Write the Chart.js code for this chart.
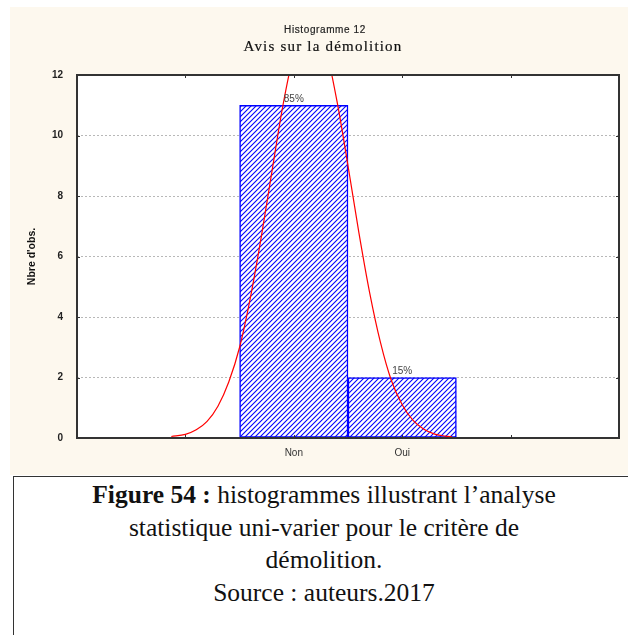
<!DOCTYPE html>
<html>
<head>
<meta charset="utf-8">
<script src="https://cdn.jsdelivr.net/npm/chart.js@4.4.1/dist/chart.umd.min.js"></script>
<style>
  body { margin: 0; background: #fff; width: 628px; height: 635px; overflow: hidden; position: relative; }
  #panel { position: absolute; left: 10px; top: 7px; width: 618px; height: 468px; background: #fdf8ee; }
  #chartBox { position: absolute; left: 0; top: 0; width: 618px; height: 468px; }
  .head1 { position: absolute; left: 0; width: 650px; top: 24px; text-align: center; font: 10px Arial, sans-serif; letter-spacing: 0.6px; color: #222; -webkit-text-stroke: 0.2px #222; }
  .head2 { position: absolute; left: 0; width: 646px; top: 38px; text-align: center; font: 15px "Liberation Serif", serif; letter-spacing: 1.2px; color: #111; -webkit-text-stroke: 0.2px #111; }
  #caption { position: absolute; left: 13px; top: 476px; width: 620px; height: 170px; border-left: 1.5px solid #333; border-top: 1.5px solid #333; text-align: center; font: 25.5px "Liberation Serif", "Times New Roman", serif; line-height: 32.5px; color: #111; padding-top: 2px; }
</style>
</head>
<body>
<div id="panel">
  <div id="chartBox"><canvas id="histo"></canvas></div>
</div>
<div class="head1">Histogramme 12</div>
<div class="head2">Avis sur la démolition</div>
<div id="caption"><b>Figure 54 :</b> histogrammes illustrant l’analyse<br>statistique uni-varier pour le critère de<br>démolition.<br>Source : auteurs.2017</div>
<script>
const categories = ['Non', 'Oui'];
const counts = [11, 2];
const percentLabels = ['85%', '15%'];
const yTicks = [0, 2, 4, 6, 8, 10, 12];

// fitted normal curve
const curveX = [-0.13, 0, 0.1, 0.2, 0.3, 0.4, 0.5, 0.6, 0.7, 0.8, 0.9, 1.0, 1.1, 1.2, 1.3, 1.4, 1.5, 1.6, 1.7, 1.8, 1.9, 2.0, 2.1, 2.2, 2.3, 2.4, 2.46];
const curveY = [0.05, 0.12, 0.27, 0.55, 1.05, 1.85, 3.0, 4.65, 6.65, 8.85, 11.0, 12.7, 13.7, 13.7, 12.8, 11.1, 9.0, 6.8, 4.8, 3.15, 1.9, 1.1, 0.58, 0.29, 0.13, 0.06, 0.04];

function hatchPattern() {
  const s = 5;
  const c = document.createElement('canvas');
  c.width = s;
  c.height = s;
  const ctx = c.getContext('2d');
  ctx.fillStyle = '#ffffff';
  ctx.fillRect(0, 0, s, s);
  ctx.strokeStyle = '#0000ff';
  ctx.lineWidth = 1.1;
  ctx.beginPath();
  ctx.moveTo(-1, s + 1);
  ctx.lineTo(s + 1, -1);
  ctx.moveTo(-1, 1);
  ctx.lineTo(1, -1);
  ctx.moveTo(s - 1, s + 1);
  ctx.lineTo(s + 1, s - 1);
  ctx.stroke();
  return c.getContext('2d').createPattern(c, 'repeat');
}

const framePlugin = {
  id: 'frame',
  beforeDraw(chart) {
    const { ctx, chartArea: a } = chart;
    ctx.save();
    ctx.fillStyle = '#ffffff';
    ctx.fillRect(a.left, a.top, a.right - a.left, a.bottom - a.top);
    ctx.restore();
  },
  afterDraw(chart) {
    const { ctx, chartArea: a, scales } = chart;
    ctx.save();
    ctx.strokeStyle = '#333';
    ctx.lineWidth = 1;
    ctx.beginPath();
    [0, 1, 2, 3].forEach((v) => {
      const x = Math.round(scales.x.getPixelForValue(v)) + 0.5;
      ctx.moveTo(x, a.bottom);
      ctx.lineTo(x, a.bottom - 3);
      ctx.moveTo(x, a.top);
      ctx.lineTo(x, a.top + 3);
    });
    yTicks.slice(1, -1).forEach((v) => {
      const y = Math.round(scales.y.getPixelForValue(v)) + 0.5;
      ctx.moveTo(a.left, y);
      ctx.lineTo(a.left + 3, y);
      ctx.moveTo(a.right, y);
      ctx.lineTo(a.right - 3, y);
    });
    ctx.stroke();
    ctx.lineWidth = 2;
    ctx.strokeRect(a.left, a.top, a.right - a.left, a.bottom - a.top);
    ctx.restore();
  },
};

const percentPlugin = {
  id: 'percent',
  afterDatasetsDraw(chart) {
    const { ctx } = chart;
    const meta = chart.getDatasetMeta(0);
    ctx.save();
    ctx.font = '10px Arial';
    ctx.fillStyle = '#444';
    ctx.textAlign = 'center';
    ctx.textBaseline = 'bottom';
    meta.data.forEach((bar, i) => {
      ctx.fillText(percentLabels[i], bar.x, bar.y - 1);
    });
    ctx.restore();
  },
};

new Chart(document.getElementById('histo'), {
  data: {
    datasets: [
      {
        type: 'bar',
        data: categories.map((c, i) => ({ x: i + 1, y: counts[i] })),
        backgroundColor: hatchPattern(),
        borderColor: '#0000ff',
        borderWidth: 1.5,
        borderSkipped: false,
        barPercentage: 1,
        categoryPercentage: 1,
        order: 2,
      },
      {
        type: 'line',
        data: curveX.map((x, i) => ({ x, y: curveY[i] })),
        borderColor: '#ff0000',
        borderWidth: 1.2,
        pointRadius: 0,
        cubicInterpolationMode: 'monotone',
        order: 1,
      },
    ],
  },
  options: {
    responsive: true,
    maintainAspectRatio: false,
    animation: false,
    layout: { padding: { top: 68, right: 3, left: 0, bottom: 0 } },
    plugins: {
      legend: { display: false },
      tooltip: { enabled: false },
    },
    scales: {
      x: {
        type: 'linear',
        offset: false,
        min: -1,
        max: 4,
        grid: { display: false, drawTicks: false },
        border: { display: false },
        ticks: {
          stepSize: 1,
          padding: 9,
          color: '#333',
          font: { family: 'Arial', size: 10 },
          callback: (v) => categories[v - 1] || '',
        },
        afterFit: (scale) => { scale.height = 37; },
      },
      y: {
        min: 0,
        max: 12,
        grid: { color: '#b8b8b8', lineWidth: 1, drawTicks: false },
        border: { display: false, dash: [2, 2] },
        ticks: {
          stepSize: 2,
          padding: 14,
          color: '#222',
          font: { family: 'Arial', size: 10, weight: 'bold' },
        },
        title: {
          display: true,
          text: "Nbre d'obs.",
          color: '#111',
          font: { family: 'Arial', size: 10.5, weight: 'bold' },
          padding: { top: 16, bottom: 0 },
        },
        afterFit: (scale) => { scale.width = 67; },
      },
    },
  },
  plugins: [framePlugin, percentPlugin],
});
</script>
</body>
</html>
